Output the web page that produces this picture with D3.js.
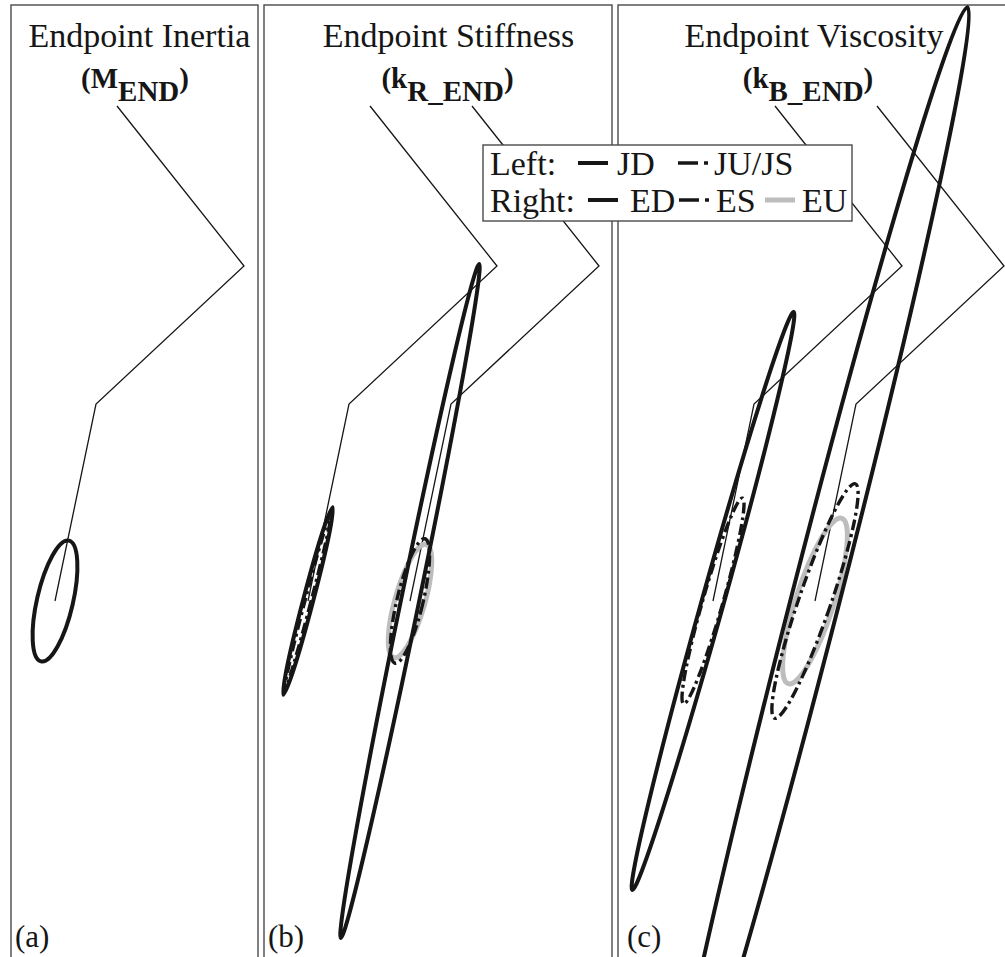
<!DOCTYPE html>
<html><head><meta charset="utf-8">
<script src="https://cdn.jsdelivr.net/npm/d3@7"></script>
<style>body{margin:0;background:#fff} svg{display:block}</style>
</head><body>
<svg id="chart" width="1005" height="957"></svg>
<script>
// ---------------- data ----------------
const panelIds = ["a", "b", "c"];
const panelTitles = ["Endpoint Inertia", "Endpoint Stiffness", "Endpoint Viscosity"];
const panelSymbols = ["M", "k", "k"];
const panelSubscripts = ["END", "R_END", "B_END"];
const panelLabels = ["(a)", "(b)", "(c)"];
// panel frames in figure units (1 unit = 10 px)
const panelLeft = [1.1, 26.4, 61.8];
const panelRight = [25.8, 61.2, 102.0];
const panelTop = 95.2;

// arms (shoulder positions + segment vectors, figure units, y up)
const armPanel = [0, 1, 1, 2, 2];
const armSide = ["Left", "Left", "Right", "Left", "Right"];
const shoulderX = [11.7, 37.0, 47.2, 77.5, 87.7];
const shoulderY = [85.1, 85.1, 85.1, 85.1, 85.1];
const upperArm = [12.7, -16.0];
const forearm = [-14.8, -13.8];
const handSeg = [-4.1, -19.7];

// ellipses at the hand of each arm
const ellArm   = [0,        1,    1,       2,    2,    2,    3,    3,       4,    4,    4];
const ellCond  = ["INERTIA","JD", "JU/JS", "EU", "ES", "ED", "JD", "JU/JS", "EU", "ES", "ED"];
const ellMajor = [6.2,      9.7,  9.2,     5.9,  6.4,  34.4, 30.0, 10.7,    8.7,  12.4, 61.3];
const ellMinor = [1.8,      0.5,  0.3,     1.5,  1.3,  0.9,  1.1,  1.0,     1.9,  1.6,  2.4];
const ellTilt  = [13,       14.7, 14.7,    16,   13.5, 11.6, 15.6, 16,      18,   19,   14.4];

// legend
const legendRows = ["Left:", "Right:"];
const legendKeys = [["JD", "JU/JS"], ["ED", "ES", "EU"]];

// ---------------- drawing ----------------
const svg = d3.select("#chart");
const sx = d3.scaleLinear().domain([0, 100.5]).range([0, 1005]);
const sy = d3.scaleLinear().domain([0, 95.7]).range([957, 0]);
const INK = "#161616", GRAY = "#bdbdbd", FRAME = "#4a4a4a";
const SERIF = '"Liberation Serif","Times New Roman",Tinos,serif';

svg.append("rect").attr("width", 1005).attr("height", 957).attr("fill", "#fff");

// frames
panelIds.forEach((id, i) => {
  svg.append("rect")
    .attr("x", sx(panelLeft[i])).attr("y", sy(panelTop))
    .attr("width", sx(panelRight[i]) - sx(panelLeft[i]))
    .attr("height", sy(-3) - sy(panelTop))
    .attr("fill", "none").attr("stroke", FRAME).attr("stroke-width", 1.4);
});

// titles
const titleCx = [139.5, 448.5, 814], subCx = [135, 447.5, 808];
svg.selectAll("text.title").data(panelTitles).join("text").attr("class", "title")
  .attr("x", (d, i) => titleCx[i]).attr("y", 47)
  .attr("text-anchor", "middle").style("font-family", SERIF).style("font-size", "34px")
  .attr("fill", INK).text(d => d);

panelSymbols.forEach((s, i) => {
  const t = svg.append("text").attr("x", subCx[i]).attr("y", 88)
    .attr("text-anchor", "middle").style("font-family", SERIF).style("font-size", "29px")
    .style("font-weight", "bold").attr("fill", INK);
  t.append("tspan").text("(" + s);
  t.append("tspan").attr("dy", 13).text(panelSubscripts[i]);
  t.append("tspan").attr("dy", -13).text(")");
});

const labelX = [15, 268, 627];
svg.selectAll("text.plabel").data(panelLabels).join("text").attr("class", "plabel")
  .attr("x", (d, i) => labelX[i]).attr("y", 947)
  .style("font-family", SERIF).style("font-size", "31px").attr("fill", INK).text(d => d);

// arms
const lineGen = d3.line().x(d => sx(d[0])).y(d => sy(d[1]));
const hands = shoulderX.map((x0, i) => {
  const y0 = shoulderY[i];
  const e = [x0 + upperArm[0], y0 + upperArm[1]];
  const w = [e[0] + forearm[0], e[1] + forearm[1]];
  const h = [w[0] + handSeg[0], w[1] + handSeg[1]];
  svg.append("path").attr("d", lineGen([[x0, y0], e, w, h]))
    .attr("fill", "none").attr("stroke", INK).attr("stroke-width", 1.3)
    .attr("stroke-linejoin", "miter");
  return h;
});

function styleFor(sel, cond, legend) {
  if (cond === "EU") {
    sel.attr("stroke", GRAY).attr("stroke-width", 5);
  } else if (cond === "JU/JS" || cond === "ES") {
    sel.attr("stroke", INK).attr("stroke-width", 3.4)
      .attr("stroke-dasharray", legend ? "20,6,4,60" : "11,4,3,4");
  } else {
    sel.attr("stroke", INK).attr("stroke-width", 4);
  }
  return sel;
}

// ellipses: gray first, then solid, then dashed on top
const order = d3.range(ellArm.length).sort((p, q) => {
  const rank = c => c === "EU" ? 0 : (c === "JU/JS" || c === "ES") ? 2 : 1;
  return rank(ellCond[p]) - rank(ellCond[q]);
});
order.forEach(k => {
  const h = hands[ellArm[k]];
  const cx = sx(h[0]), cy = sy(h[1]);
  const el = svg.append("ellipse")
    .attr("cx", cx).attr("cy", cy)
    .attr("rx", sx(ellMinor[k]) - sx(0))
    .attr("ry", sy(0) - sy(ellMajor[k]))
    .attr("transform", `rotate(${ellTilt[k]},${cx},${cy})`)
    .attr("fill", "none");
  styleFor(el, ellCond[k], false);
});

// legend
const lg = svg.append("g");
lg.append("rect").attr("x", 483).attr("y", 145).attr("width", 369).attr("height", 76)
  .attr("fill", "#fff").attr("stroke", FRAME).attr("stroke-width", 1.4);
const rowY = [175, 212];
const keyLine = [[[578, 608], [678, 712]], [[588, 618], [679, 713], [765, 795]]];
const keyText = [[617, 714], [630, 716, 802]];
legendRows.forEach((r, ri) => {
  lg.append("text").attr("x", 490).attr("y", rowY[ri])
    .style("font-family", SERIF).style("font-size", "34px").attr("fill", INK).text(r);
  legendKeys[ri].forEach((c, ci) => {
    const ln = lg.append("line")
      .attr("x1", keyLine[ri][ci][0]).attr("x2", keyLine[ri][ci][1])
      .attr("y1", rowY[ri] - 12).attr("y2", rowY[ri] - 12);
    styleFor(ln, c, true);
    lg.append("text").attr("x", keyText[ri][ci]).attr("y", rowY[ri])
      .style("font-family", SERIF).style("font-size", "34px").attr("fill", INK).text(c);
  });
});
</script>
</body></html>
